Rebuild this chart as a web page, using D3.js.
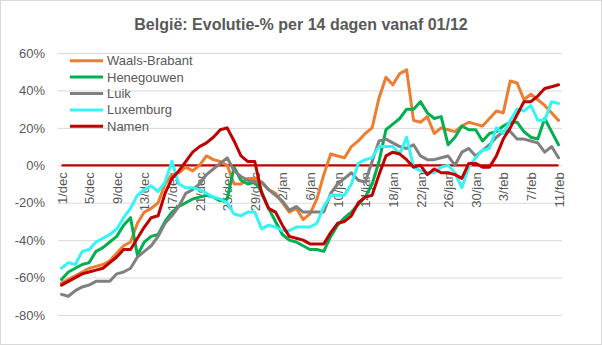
<!DOCTYPE html>
<html>
<head>
<meta charset="utf-8">
<script src="https://cdn.jsdelivr.net/npm/d3@7/dist/d3.min.js"></script>
<style>
  html, body { margin: 0; padding: 0; background: #fff; }
  svg { display: block; }
  text { font-family: "Liberation Sans", Arial, sans-serif; fill: #595959; }
</style>
</head>
<body>
<svg id="chart" width="602" height="345"></svg>
<script>
const title = "België: Evolutie-% per 14 dagen vanaf 01/12";

const categories = [
  "1/dec","2/dec","3/dec","4/dec","5/dec","6/dec","7/dec","8/dec","9/dec","10/dec",
  "11/dec","12/dec","13/dec","14/dec","15/dec","16/dec","17/dec","18/dec","19/dec","20/dec",
  "21/dec","22/dec","23/dec","24/dec","25/dec","26/dec","27/dec","28/dec","29/dec","30/dec","31/dec",
  "1/jan","2/jan","3/jan","4/jan","5/jan","6/jan","7/jan","8/jan","9/jan","10/jan",
  "11/jan","12/jan","13/jan","14/jan","15/jan","16/jan","17/jan","18/jan","19/jan","20/jan",
  "21/jan","22/jan","23/jan","24/jan","25/jan","26/jan","27/jan","28/jan","29/jan","30/jan","31/jan",
  "1/feb","2/feb","3/feb","4/feb","5/feb","6/feb","7/feb","8/feb","9/feb","10/feb","11/feb"
];

const tickLabels = ["1/dec","5/dec","9/dec","13/dec","17/dec","21/dec","25/dec","29/dec",
  "2/jan","6/jan","10/jan","14/jan","18/jan","22/jan","26/jan","30/jan","3/feb","7/feb","11/feb"];

const yTicks = [-80, -60, -40, -20, 0, 20, 40, 60];

const seriesNames = ["Waals-Brabant", "Henegouwen", "Luik", "Luxemburg", "Namen"];

const waalsBrabant = [-63,-61,-59,-57,-55,-54,-53,-51,-47,-43,-41,-31,-25,-23,-20,-10,-5,-4,-1,-3,
  0,5,3,2,0,-10,-10,-7,-7,-9,-13,-15,-20,-25,-23,-29,-26,-18,-5,6,
  5,4,10,13,17,20,36,47,43,49,51,24,23,26,17,20,19,18,21,23,
  22,21,25,29,28,45,44,35,38,35,32,28,24];

const henegouwen = [-61,-57,-55,-53,-52,-46,-44,-41,-38,-32,-28,-48,-41,-38,-37,-30,-25,-22,-20,-18,
  -17,-16,-17,-19,-18,-1,-8,-10,-9,-14,-23,-30,-37,-40,-41,-43,-45,-45,-46,-38,
  -32,-28,-25,-21,-17,-10,2,19,22,25,30,30,34,28,25,26,11,15,21,19,
  19,13,17,18,21,23,23,18,15,14,25,18,11];

const luik = [-69,-70,-67,-65,-64,-62,-62,-62,-58,-57,-55,-49,-46,-43,-38,-31,-27,-22,-15,-13,
  -10,-5,-2,1,4,-3,-6,-8,-9,-9,-13,-16,-19,-24,-22,-25,-25,-25,-25,-15,
  -10,-7,-4,-8,-9,2,13,14,12,10,9,11,5,3,3,4,5,0,7,9,
  5,8,11,15,18,18,14,14,13,12,7,10,4];

const luxemburg = [-55,-52,-53,-46,-45,-41,-39,-37,-34,-28,-23,-16,-13,-11,-14,-9,2,-10,-12,-12,
  -13,-15,-17,-18,-20,-26,-27,-25,-25,-34,-32,-33,-35,-35,-33,-33,-33,-31,-22,-16,
  -16,-16,-10,1,3,4,10,10,10,6,15,-1,-3,-4,-4,-1,0,-4,-12,-1,
  4,8,9,20,17,24,30,29,32,24,24,34,33];

const namen = [-64,-62,-60,-58,-57,-56,-55,-52,-49,-45,-45,-39,-33,-28,-27,-15,-7,-3,2,7,
  10,12,15,19,20,13,5,2,2,-15,-23,-25,-32,-38,-39,-40,-42,-42,-42,-36,
  -31,-30,-27,-20,-17,-16,-5,5,7,6,3,-1,0,-5,-2,-4,-4,-5,-7,1,
  1,-1,-1,5,14,20,27,34,34,37,41,42,43];

const zeroLine = categories.map(() => 0);

const seriesValues = [waalsBrabant, henegouwen, luik, luxemburg, namen];
const colors = ["#ED7D31", "#00B050", "#808080", "#33F5F5", "#C00000"];

const svg = d3.select("#chart");
const W = 602, H = 345;
const plotLeft = 58, plotRight = 562;

// outer border
svg.append("rect").attr("x", 0.5).attr("y", 0.5).attr("width", W - 1).attr("height", H - 1)
  .attr("fill", "#fff").attr("stroke", "#d9d9d9");

const x = d3.scalePoint().domain(categories).range([61.5, 558.5]);
const y = d3.scaleLinear().domain([-80, 60]).range([315, 53]);

// gridlines + y labels
const yAxis = svg.append("g")
  .attr("transform", `translate(${plotLeft},0)`)
  .call(d3.axisLeft(y).tickValues(yTicks).tickSize(-(plotRight - plotLeft)).tickPadding(13)
    .tickFormat(d => d + "%"));
yAxis.select(".domain").remove();
yAxis.selectAll(".tick line").attr("stroke", "#d9d9d9").attr("stroke-width", 1);
yAxis.selectAll(".tick text").style("font-size", "13px").style("fill", "#595959")
  .style("font-family", "'Liberation Sans', Arial, sans-serif");

// x labels at zero line
const xAxis = svg.append("g")
  .attr("transform", `translate(0,${y(0)})`)
  .call(d3.axisBottom(x).tickValues(tickLabels).tickSize(0));
xAxis.select(".domain").remove();
xAxis.selectAll(".tick text")
  .attr("transform", "rotate(-90)")
  .attr("text-anchor", "end")
  .attr("x", -7)
  .attr("y", 0)
  .attr("dy", "0.35em")
  .style("font-size", "13px").style("fill", "#595959")
  .style("font-family", "'Liberation Sans', Arial, sans-serif");

const line = d3.line().x((d, i) => x(categories[i])).y(d => y(d));

// zero line
svg.append("path").datum(zeroLine).attr("d", line)
  .attr("fill", "none").attr("stroke", "#C00000").attr("stroke-width", 2.2);

seriesValues.forEach((vals, k) => {
  svg.append("path").datum(vals).attr("d", line)
    .attr("fill", "none").attr("stroke", colors[k]).attr("stroke-width", 3)
    .attr("stroke-linejoin", "round").attr("stroke-linecap", "round");
});

// legend
const legend = svg.append("g");
seriesNames.forEach((name, k) => {
  const ly = 60.7 + k * 16.4;
  legend.append("line").attr("x1", 70).attr("x2", 103).attr("y1", ly).attr("y2", ly)
    .attr("stroke", colors[k]).attr("stroke-width", 3);
  legend.append("text").attr("x", 107).attr("y", ly).attr("dy", "0.35em")
    .style("font-size", "13px").text(name);
});

// title
svg.append("text").attr("x", 301).attr("y", 30).attr("text-anchor", "middle")
  .style("font-size", "16px").style("font-weight", "bold").text(title);
</script>
</body>
</html>
